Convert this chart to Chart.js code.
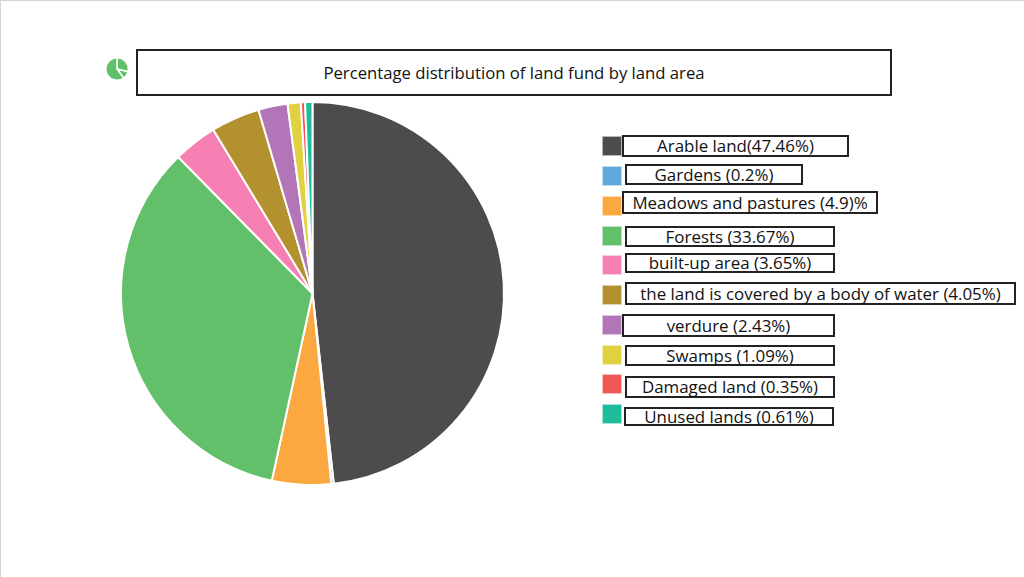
<!DOCTYPE html>
<html>
<head>
<meta charset="utf-8">
<title>Land fund</title>
<script src="https://cdn.jsdelivr.net/npm/chart.js@4"></script>
<style>
html, body { margin: 0; padding: 0; background: #fff; }
#page { position: relative; width: 1024px; height: 577px; overflow: hidden; box-sizing: border-box;
    border-left: 1px solid #d4d4d4; border-top: 1px solid #d4d4d4; font-family: "Open Sans", sans-serif; color: #111; }
#page > * { position: absolute; }
.box { box-sizing: border-box; border: 2px solid #222; background: #fff; text-align: center; white-space: nowrap; font-size: 16.9px; }
.swatch { box-sizing: border-box; border: 1px solid rgba(255,255,255,.6); }
</style>
</head>
<body>
<div id="page">
    <canvas id="pie" width="391" height="391" style="left:116px;top:97px"></canvas>
    <canvas id="icon" width="26" height="26" style="left:103px;top:55px"></canvas>
</div>
<script>
var categories = ["Arable land(47.46%)", "Gardens (0.2%)", "Meadows and pastures (4.9)%", "Forests (33.67%)", "built-up area (3.65%)",
    "the land is covered by a body of water (4.05%)", "verdure (2.43%)", "Swamps (1.09%)", "Damaged land (0.35%)", "Unused lands (0.61%)"];
var shares = [47.46, 0.2, 4.9, 33.67, 3.65, 4.05, 2.43, 1.09, 0.35, 0.61];
var colors = ["#4d4b4b", "#5fa8dc", "#fba840", "#62bf6a", "#f67fb4", "#b3912f", "#b276b8", "#dfd13f", "#f15854", "#1fbc9c"];
var iconShares = [29, 11, 60];

// legend layout: box left, top, right, bottom and swatch top
var boxLeft = [622, 625, 622, 625, 625, 625, 622, 625, 625, 624];
var boxTop = [135, 164, 191, 226, 253, 282, 314, 345, 376, 407];
var boxRight = [849, 803, 878, 835, 835, 1016, 835, 835, 835, 834];
var boxBottom = [157, 185, 214, 247, 273, 305, 337, 366, 398, 426];
var swatchTop = [136, 166, 196, 226, 255, 285, 315, 345, 374, 404];

var page = document.getElementById("page");

function addDiv(className, left, top, width, height) {
    var div = document.createElement("div");
    div.className = className;
    // page has a 1px border, absolute children start inside it
    div.style.left = (left - 1) + "px";
    div.style.top = (top - 1) + "px";
    div.style.width = width + "px";
    div.style.height = height + "px";
    page.appendChild(div);
    return div;
}

var title = addDiv("box", 136, 49, 756, 47);
title.textContent = "Percentage distribution of land fund by land area";
title.style.lineHeight = "43px";
title.style.fontSize = "16.7px";

for (var i = 0; i < categories.length; i++) {
    var swatch = addDiv("swatch", 602, swatchTop[i], 20, 20);
    swatch.style.background = colors[i];
    var height = boxBottom[i] - boxTop[i];
    var box = addDiv("box", boxLeft[i], boxTop[i], boxRight[i] - boxLeft[i], height);
    box.textContent = categories[i];
    box.style.lineHeight = (height - 4) + "px";
}

new Chart(document.getElementById("pie"), {
    type: 'pie',
    data: {
        labels: categories,
        datasets: [{
            data: shares,
            backgroundColor: colors,
            borderColor: '#fff',
            borderWidth: 2
        }]
    },
    options: {
        responsive: false,
        animation: false,
        layout: { padding: 3 },
        plugins: { legend: { display: false }, tooltip: { enabled: false } }
    }
});

// small pie icon next to the title
new Chart(document.getElementById("icon"), {
    type: 'pie',
    data: {
        datasets: [{
            data: iconShares,
            backgroundColor: colors[3],
            borderColor: '#fff',
            borderWidth: 1.5
        }]
    },
    options: {
        responsive: false,
        animation: false,
        layout: { padding: 1 },
        plugins: { legend: { display: false }, tooltip: { enabled: false } }
    }
});
</script>
</body>
</html>
